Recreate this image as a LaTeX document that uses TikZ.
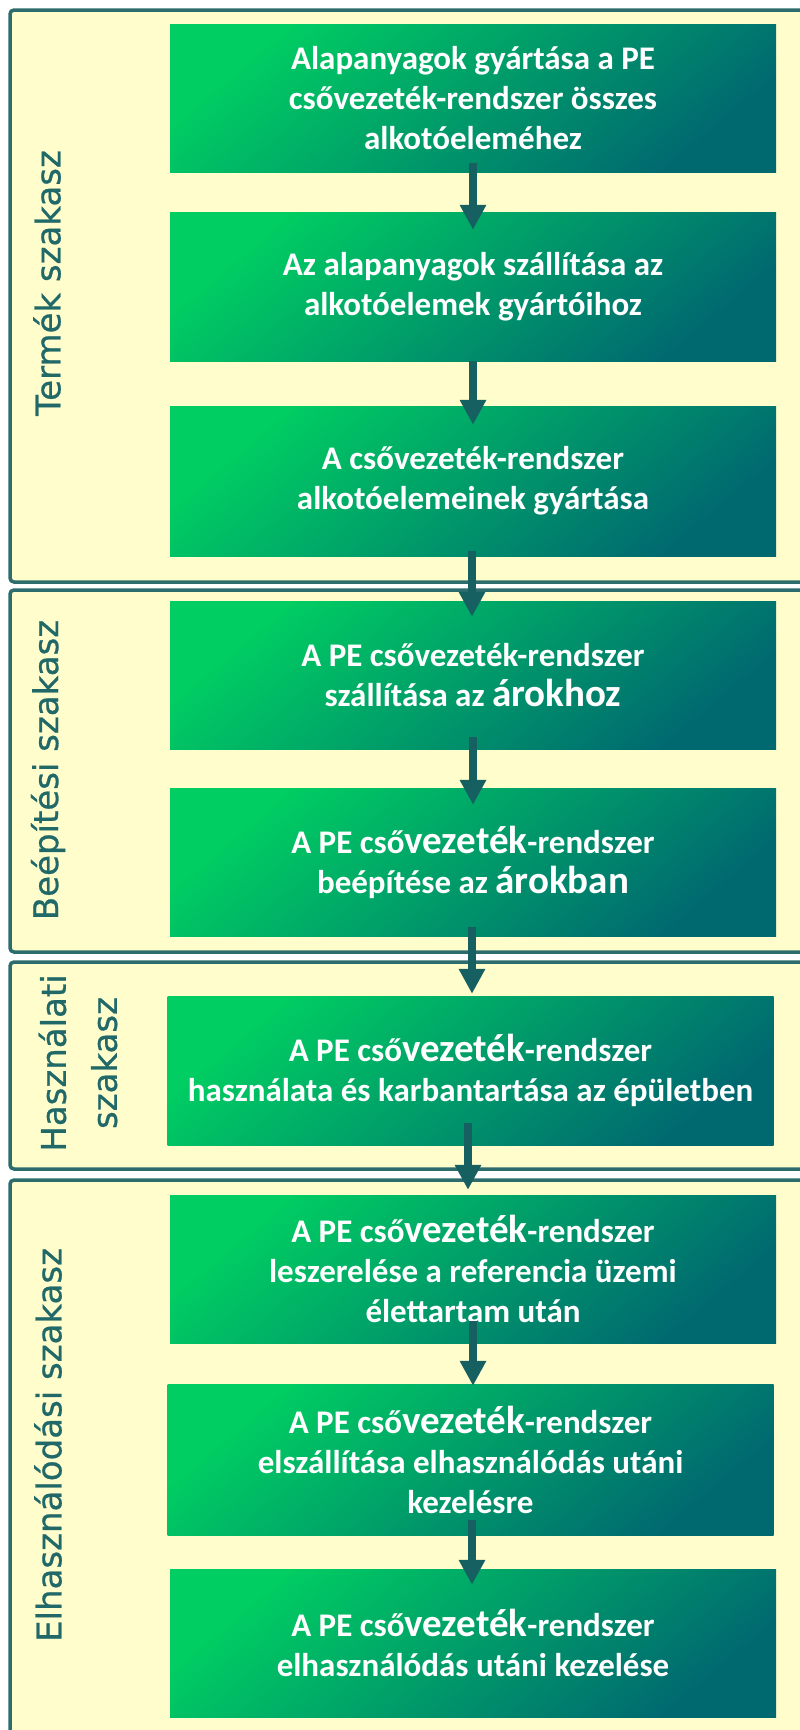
\documentclass[tikz,border=0pt]{standalone}
\usepackage{fontspec}
\setmainfont{Carlito}
\newfontfamily\labelfont[FakeBold=0.7]{DejaVu Sans}
\usetikzlibrary{arrows.meta}
\definecolor{gbright}{RGB}{0,206,98}
\definecolor{gdark}{RGB}{0,105,112}
\definecolor{bordc}{RGB}{45,108,108}
\definecolor{creamc}{RGB}{255,253,204}
\definecolor{labc}{RGB}{33,104,104}
\definecolor{arrc}{RGB}{22,96,98}
\newcommand\bigw[1]{{\fontsize{39pt}{41pt}\selectfont #1}}
\begin{document}
\begin{tikzpicture}[x=1pt,y=-1pt,
  stagebox/.style={minimum width=606pt, minimum height=148pt, inner sep=0pt,
    align=center, text=white, font={\fontsize{33pt}{40pt}\selectfont\bfseries},
    top color=gbright, bottom color=gdark, shading angle=40},
  phase/.style={draw=bordc, line width=3.5pt, fill=creamc, rounded corners=4pt},
  phlabel/.style={rotate=90, text=labc, align=center, inner sep=0pt,
    font={\labelfont\fontsize{34pt}{51pt}\selectfont}},
  flow/.style={draw=arrc, line width=8pt, -{Triangle[width=25pt,length=25pt]}}
]
\clip (0,0) rectangle (800,1730);
\fill[white] (0,0) rectangle (800,1730);
% phase frames
\draw[phase] (10,10) rectangle (812,582);
\draw[phase] (10,590) rectangle (812,952);
\draw[phase] (10,962) rectangle (812,1169);
\draw[phase] (10,1180) rectangle (812,1745);
% phase labels
\node[phlabel] (l1) at (47,283) {Termék szakasz};
\node[phlabel] (l2) at (48,770) {Beépítési szakasz};
\node[phlabel] (l3) at (78,1063) {Használati\\szakasz};
\node[phlabel] (l4) at (48,1445) {Elhasználódási szakasz};
% stages
\node[stagebox] (b1) at (473,98) {Alapanyagok gyártása a PE\\csővezeték-rendszer összes\\alkotóeleméhez};
\node[stagebox, minimum height=149pt] (b2) at (473,286.5) {Az alapanyagok szállítása az\\alkotóelemek gyártóihoz};
\node[stagebox, minimum height=150pt] (b3) at (473,481) {A csővezeték-rendszer\\alkotóelemeinek gyártása};
\node[stagebox] (b4) at (473,675) {A PE csővezeték-rendszer\\szállítása az \bigw{árokhoz}};
\node[stagebox] (b5) at (473,862) {A PE cső\bigw{vezeték}-rendszer\\beépítése az \bigw{árokban}};
\node[stagebox, minimum height=149pt] (b6) at (470.5,1070.5) {A PE cső\bigw{vezeték}-rendszer\\használata és karbantartása az épületben};
\node[stagebox] (b7) at (473,1269) {A PE cső\bigw{vezeték}-rendszer\\leszerelése a referencia üzemi\\élettartam után};
\node[stagebox, minimum height=151pt] (b8) at (470.5,1459.5) {A PE cső\bigw{vezeték}-rendszer\\elszállítása elhasználódás utáni\\kezelésre};
\node[stagebox] (b9) at (473,1643) {A PE cső\bigw{vezeték}-rendszer\\elhasználódás utáni kezelése};
% arrows
\draw[flow] ([yshift=9pt]b1.south) -- ([yshift=-18pt]b2.north);
\draw[flow] (b2.south) -- ([yshift=-19pt]b3.north);
\draw[flow] ([xshift=-1pt,yshift=5pt]b3.south) -- ([xshift=-1pt,yshift=-16pt]b4.north);
\draw[flow] ([yshift=12pt]b4.south) -- ([yshift=-17pt]b5.north);
\draw[flow] ([xshift=-1pt,yshift=9pt]b5.south) -- ([xshift=1.5pt,yshift=2pt]b6.north);
\draw[flow] ([xshift=-2.5pt,yshift=22pt]b6.south) -- ([xshift=-5pt,yshift=5pt]b7.north);
\draw[flow] ([yshift=22pt]b7.south) -- ([xshift=2.5pt,yshift=-2pt]b8.north);
\draw[flow] ([xshift=1.5pt,yshift=15pt]b8.south) -- ([xshift=-1pt,yshift=-16pt]b9.north);
\end{tikzpicture}
\end{document}
